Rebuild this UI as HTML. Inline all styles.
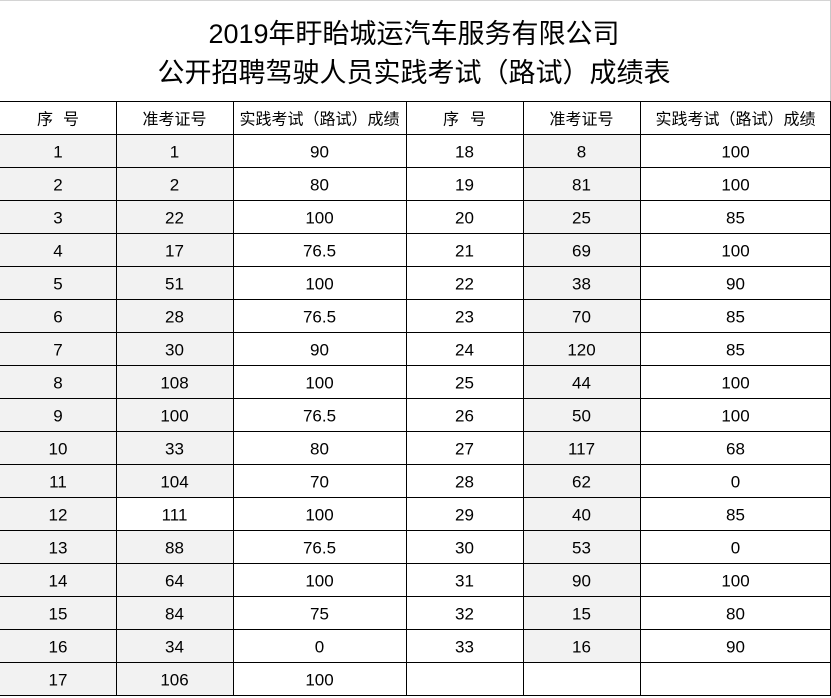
<!DOCTYPE html>
<html><head><meta charset="utf-8"><style>
html,body{margin:0;padding:0;background:#fff;}
svg{display:block;}
text{fill:#000;}
.t{font-family:"Liberation Sans","Noto Sans CJK SC",sans-serif;font-size:27px;}
.h{font-family:"Liberation Sans","Noto Sans CJK SC",sans-serif;font-size:16px;}
.d{font-family:"Liberation Sans","Noto Sans CJK SC",sans-serif;font-size:17px;}
</style></head><body>
<svg width="831" height="698" viewBox="0 0 831 698" xmlns="http://www.w3.org/2000/svg">
<rect x="0" y="0" width="831" height="698" fill="#fff"/>
<rect x="0" y="0" width="831" height="1" fill="#d4d4d4"/>
<rect x="830" y="0" width="1" height="101" fill="#c8c8c8"/>
<!-- grey fills -->
<rect x="0" y="134" width="116" height="561" fill="#f2f2f2"/>
<rect x="116" y="134" width="117" height="363" fill="#f2f2f2"/>
<rect x="116" y="530" width="117" height="165" fill="#f2f2f2"/>
<rect x="523" y="134" width="117" height="528" fill="#f2f2f2"/>
<!-- horizontal lines -->
<g fill="#000">
<rect x="0" y="101" width="831" height="1"/>
<rect x="0" y="134" width="831" height="1"/>
<rect x="0" y="167" width="831" height="1"/>
<rect x="0" y="200" width="831" height="1"/>
<rect x="0" y="233" width="831" height="1"/>
<rect x="0" y="266" width="831" height="1"/>
<rect x="0" y="299" width="831" height="1"/>
<rect x="0" y="332" width="831" height="1"/>
<rect x="0" y="365" width="831" height="1"/>
<rect x="0" y="398" width="831" height="1"/>
<rect x="0" y="431" width="831" height="1"/>
<rect x="0" y="464" width="831" height="1"/>
<rect x="0" y="497" width="831" height="1"/>
<rect x="0" y="530" width="831" height="1"/>
<rect x="0" y="563" width="831" height="1"/>
<rect x="0" y="596" width="831" height="1"/>
<rect x="0" y="629" width="831" height="1"/>
<rect x="0" y="662" width="831" height="1"/>
<rect x="0" y="695" width="831" height="1"/>
<!-- vertical lines -->
<rect x="116" y="101" width="1" height="595"/>
<rect x="233" y="101" width="1" height="595"/>
<rect x="406" y="101" width="1" height="595"/>
<rect x="523" y="101" width="1" height="595"/>
<rect x="640" y="101" width="1" height="595"/>
<rect x="830" y="101" width="1" height="595"/>
</g>
<!-- title -->
<text class="t" x="414" y="43" text-anchor="middle">2019年盱眙城运汽车服务有限公司</text>
<text class="t" x="414" y="82" text-anchor="middle">公开招聘驾驶人员实践考试（路试）成绩表</text>
<!-- header -->
<g class="h" text-anchor="middle">
<text x="45" y="124.5">序</text><text x="71" y="124.5">号</text>
<text x="174.5" y="124.5">准考证号</text>
<text x="319.5" y="124.5">实践考试（路试）成绩</text>
<text x="451" y="124.5">序</text><text x="478" y="124.5">号</text>
<text x="581.5" y="124.5">准考证号</text>
<text x="735.5" y="124.5">实践考试（路试）成绩</text>
</g>
<!-- data -->
<g class="d" text-anchor="middle">
<text x="58" y="157.5">1</text><text x="174.5" y="157.5">1</text><text x="319.5" y="157.5">90</text><text x="464.5" y="157.5">18</text><text x="581.5" y="157.5">8</text><text x="735.5" y="157.5">100</text>
<text x="58" y="190.5">2</text><text x="174.5" y="190.5">2</text><text x="319.5" y="190.5">80</text><text x="464.5" y="190.5">19</text><text x="581.5" y="190.5">81</text><text x="735.5" y="190.5">100</text>
<text x="58" y="223.5">3</text><text x="174.5" y="223.5">22</text><text x="319.5" y="223.5">100</text><text x="464.5" y="223.5">20</text><text x="581.5" y="223.5">25</text><text x="735.5" y="223.5">85</text>
<text x="58" y="256.5">4</text><text x="174.5" y="256.5">17</text><text x="319.5" y="256.5">76.5</text><text x="464.5" y="256.5">21</text><text x="581.5" y="256.5">69</text><text x="735.5" y="256.5">100</text>
<text x="58" y="289.5">5</text><text x="174.5" y="289.5">51</text><text x="319.5" y="289.5">100</text><text x="464.5" y="289.5">22</text><text x="581.5" y="289.5">38</text><text x="735.5" y="289.5">90</text>
<text x="58" y="322.5">6</text><text x="174.5" y="322.5">28</text><text x="319.5" y="322.5">76.5</text><text x="464.5" y="322.5">23</text><text x="581.5" y="322.5">70</text><text x="735.5" y="322.5">85</text>
<text x="58" y="355.5">7</text><text x="174.5" y="355.5">30</text><text x="319.5" y="355.5">90</text><text x="464.5" y="355.5">24</text><text x="581.5" y="355.5">120</text><text x="735.5" y="355.5">85</text>
<text x="58" y="388.5">8</text><text x="174.5" y="388.5">108</text><text x="319.5" y="388.5">100</text><text x="464.5" y="388.5">25</text><text x="581.5" y="388.5">44</text><text x="735.5" y="388.5">100</text>
<text x="58" y="421.5">9</text><text x="174.5" y="421.5">100</text><text x="319.5" y="421.5">76.5</text><text x="464.5" y="421.5">26</text><text x="581.5" y="421.5">50</text><text x="735.5" y="421.5">100</text>
<text x="58" y="454.5">10</text><text x="174.5" y="454.5">33</text><text x="319.5" y="454.5">80</text><text x="464.5" y="454.5">27</text><text x="581.5" y="454.5">117</text><text x="735.5" y="454.5">68</text>
<text x="58" y="487.5">11</text><text x="174.5" y="487.5">104</text><text x="319.5" y="487.5">70</text><text x="464.5" y="487.5">28</text><text x="581.5" y="487.5">62</text><text x="735.5" y="487.5">0</text>
<text x="58" y="520.5">12</text><text x="174.5" y="520.5">111</text><text x="319.5" y="520.5">100</text><text x="464.5" y="520.5">29</text><text x="581.5" y="520.5">40</text><text x="735.5" y="520.5">85</text>
<text x="58" y="553.5">13</text><text x="174.5" y="553.5">88</text><text x="319.5" y="553.5">76.5</text><text x="464.5" y="553.5">30</text><text x="581.5" y="553.5">53</text><text x="735.5" y="553.5">0</text>
<text x="58" y="586.5">14</text><text x="174.5" y="586.5">64</text><text x="319.5" y="586.5">100</text><text x="464.5" y="586.5">31</text><text x="581.5" y="586.5">90</text><text x="735.5" y="586.5">100</text>
<text x="58" y="619.5">15</text><text x="174.5" y="619.5">84</text><text x="319.5" y="619.5">75</text><text x="464.5" y="619.5">32</text><text x="581.5" y="619.5">15</text><text x="735.5" y="619.5">80</text>
<text x="58" y="652.5">16</text><text x="174.5" y="652.5">34</text><text x="319.5" y="652.5">0</text><text x="464.5" y="652.5">33</text><text x="581.5" y="652.5">16</text><text x="735.5" y="652.5">90</text>
<text x="58" y="685.5">17</text><text x="174.5" y="685.5">106</text><text x="319.5" y="685.5">100</text>
</g>
</svg>
</body></html>
